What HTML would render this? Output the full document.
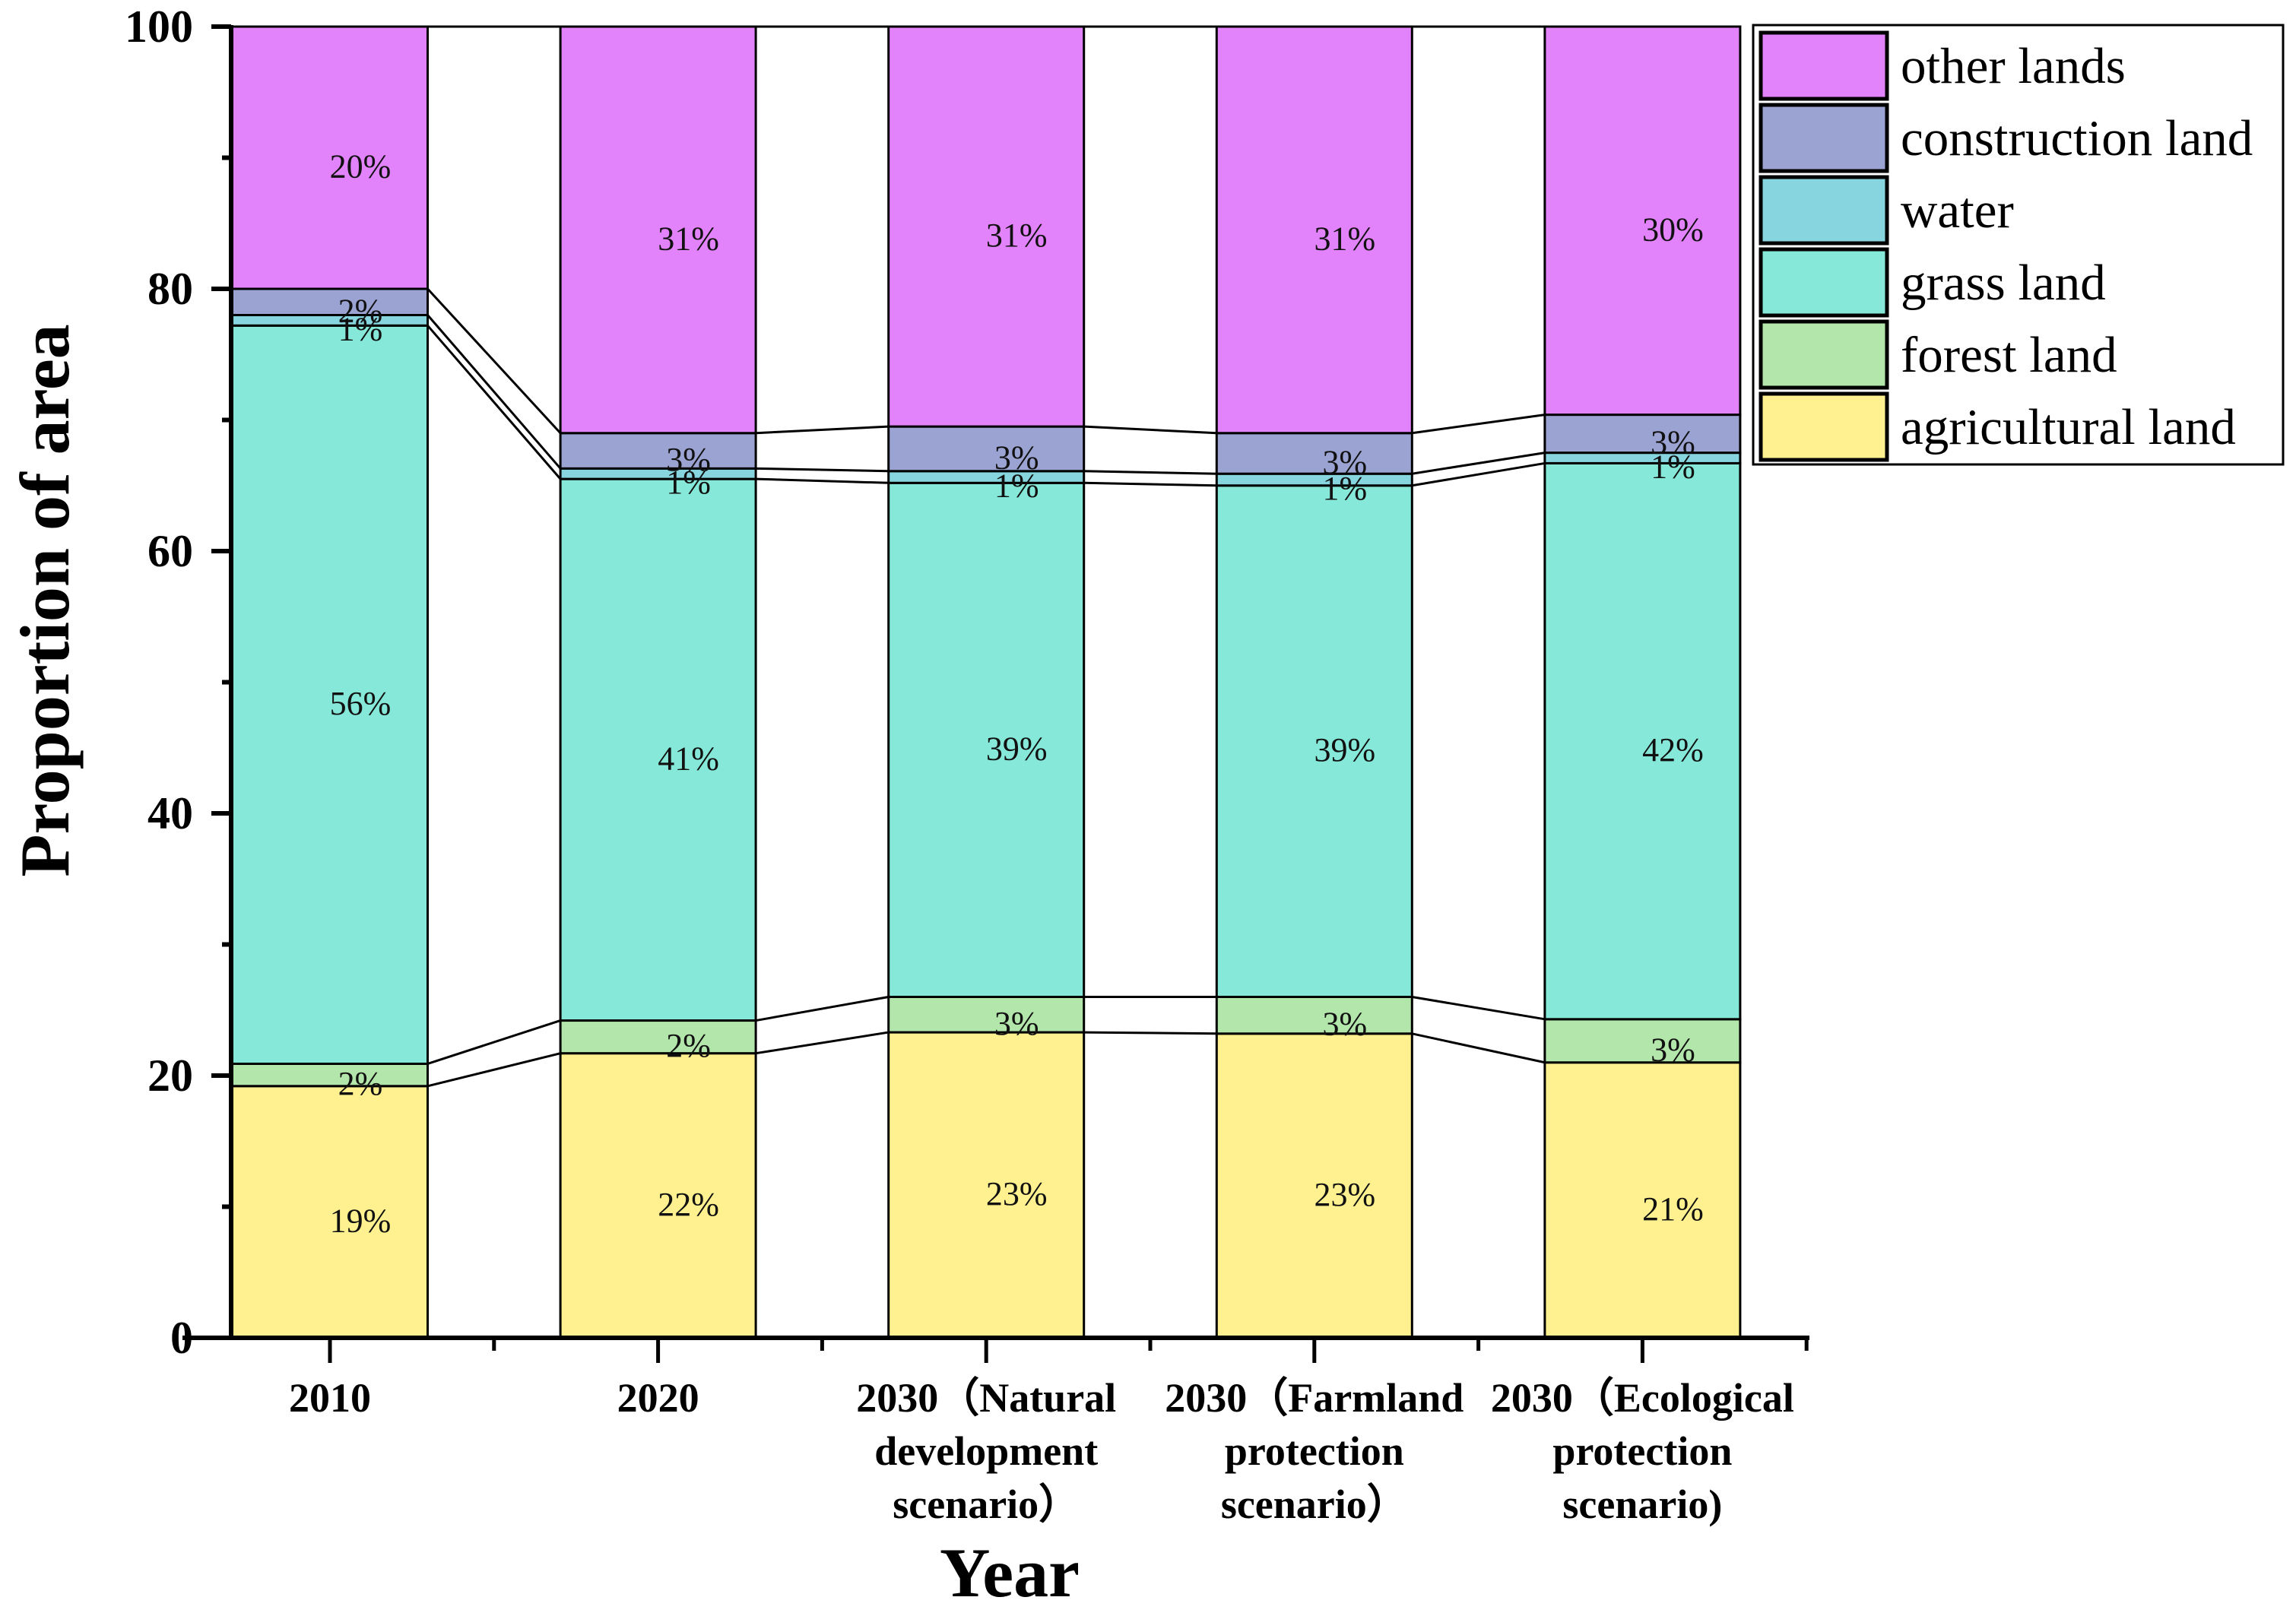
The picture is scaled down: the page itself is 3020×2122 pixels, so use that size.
<!DOCTYPE html>
<html><head><meta charset="utf-8"><style>
html,body{margin:0;padding:0;background:#fff;}
svg{display:block;}
text{font-family:"Liberation Serif",serif;}
</style></head><body>
<svg id="chart" width="3020" height="2122" viewBox="0 0 3020 2122" xmlns="http://www.w3.org/2000/svg">
<g id="plot"></g>
<g id="axes"></g>
<text transform="translate(90,790) rotate(-90)" text-anchor="middle" font-size="92" font-weight="bold">Proportion of area</text>
<text x="1328" y="2100" text-anchor="middle" font-size="92" font-weight="bold">Year</text>
<g id="legend"></g>
</svg>
<script>
const categories = [["2010"],["2020"],["2030（Natural","development","scenario）"],["2030（Farmland","protection","scenario）"],["2030（Ecological","protection","scenario)"]];
const seriesNames = ["agricultural land","forest land","grass land","water","construction land","other lands"];
const agricultural = [19.2, 21.7, 23.3, 23.2, 21.0];
const forest = [1.7, 2.5, 2.7, 2.8, 3.3];
const grass = [56.3, 41.3, 39.2, 39.0, 42.4];
const water = [0.8, 0.8, 0.9, 0.9, 0.8];
const construction = [2.0, 2.7, 3.4, 3.1, 2.9];
const other = [20.0, 31.0, 30.5, 31.0, 29.6];
const labelAgri = ["19%","22%","23%","23%","21%"];
const labelForest = ["2%","2%","3%","3%","3%"];
const labelGrass = ["56%","41%","39%","39%","42%"];
const labelWater = ["1%","1%","1%","1%","1%"];
const labelConst = ["2%","3%","3%","3%","3%"];
const labelOther = ["20%","31%","31%","31%","30%"];
const yTicks = [0,20,40,60,80,100];

const series = [agricultural, forest, grass, water, construction, other];
const labels = [labelAgri, labelForest, labelGrass, labelWater, labelConst, labelOther];
const colors = ["#FFF18F","#B3E6AA","#86E8D9","#87D6DF","#9BA3D2","#E383FB"];
const NS = "http://www.w3.org/2000/svg";
const X0 = 304, Y0 = 1760, YT = 35, step = 431.6, barW = 257;
function y(v){ return Y0 - (Y0-YT)*v/100; }
function xc(i){ return X0 + 130 + step*i; }
function mk(tag, attrs, parent){ const e=document.createElementNS(NS,tag); for(const k in attrs) e.setAttribute(k,attrs[k]); parent.appendChild(e); return e; }
const plot = document.getElementById('plot');
const axes = document.getElementById('axes');
const legend = document.getElementById('legend');

const cum = categories.map((c,i)=>{ let s=0; const arr=[0]; series.forEach(ser=>{ s+=ser[i]; arr.push(s); }); return arr; });

for(let i=0;i<categories.length-1;i++){
  for(let k=1;k<series.length;k++){
    const l = mk('line',{x1:xc(i)+barW/2,y1:y(cum[i][k]),x2:xc(i+1)-barW/2,y2:y(cum[i+1][k]),stroke:'#000','stroke-width':3},plot);
    
    
  }
}
categories.forEach((c,i)=>{
  series.forEach((ser,k)=>{
    const r = mk('rect',{x:xc(i)-barW/2,y:y(cum[i][k+1]),width:barW,height:y(cum[i][k])-y(cum[i][k+1]),fill:colors[k],stroke:'#000','stroke-width':3},plot);
    
    
  });
});
categories.forEach((c,i)=>{
  series.forEach((ser,k)=>{
    const mid = (y(cum[i][k])+y(cum[i][k+1]))/2;
    const t = mk('text',{x:xc(i)+40,y:mid+26,'text-anchor':'middle','font-size':44,fill:'#111'},plot);
    
    
    t.textContent = labels[k][i];
  });
});
mk('line',{x1:X0,y1:YT-2,x2:X0,y2:Y0+3,stroke:'#000','stroke-width':6},axes);
mk('line',{x1:240,y1:Y0,x2:2380,y2:Y0,stroke:'#000','stroke-width':6},axes);
mk('line',{x1:X0,y1:YT,x2:xc(4)+barW/2,y2:YT,stroke:'#000','stroke-width':3},axes);
yTicks.forEach(v=>{
  mk('line',{x1:X0-26,y1:y(v),x2:X0,y2:y(v),stroke:'#000','stroke-width':6},axes);
  const t = mk('text',{x:X0-50,y:y(v)+20,'text-anchor':'end','font-size':60,'font-weight':'bold'},axes);
  
  
  t.textContent = String(v);
});
for(let v=10; v<100; v+=20){ mk('line',{x1:X0-12,y1:y(v),x2:X0,y2:y(v),stroke:'#000','stroke-width':6},axes); }
categories.forEach((c,i)=>{
  mk('line',{x1:xc(i),y1:Y0,x2:xc(i),y2:Y0+33,stroke:'#000','stroke-width':5},axes);
  mk('line',{x1:xc(i)+step/2,y1:Y0,x2:xc(i)+step/2,y2:Y0+17,stroke:'#000','stroke-width':5},axes);
  c.forEach((line,j)=>{
    const t = mk('text',{x:xc(i),y:1857+j*70,'text-anchor':'middle','font-size':54,'font-weight':'bold'},axes);
    
    
    t.textContent = line;
  });
});
const lb = mk('rect',{x:2306,y:33,width:697,height:578,fill:'#fff',stroke:'#000','stroke-width':3},legend);


for(let k=series.length-1;k>=0;k--){
  const row = series.length-1-k;
  const yy = 43 + row*95;
  const s = mk('rect',{x:2316,y:yy,width:166,height:87,fill:colors[k],stroke:'#000','stroke-width':5},legend);
  
  
  const t = mk('text',{x:2500,y:yy+66,'font-size':67},legend);
  
  
  t.textContent = seriesNames[k];
}
</script>
</body></html>
